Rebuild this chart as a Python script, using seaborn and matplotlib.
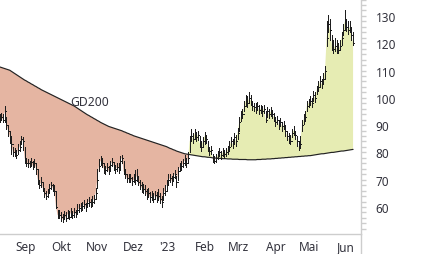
import matplotlib
matplotlib.use("Agg")
import numpy as np
import pandas as pd
import seaborn as sns
import matplotlib.pyplot as plt
from matplotlib.ticker import MultipleLocator, FixedLocator
from matplotlib.lines import Line2D

# ---------------- data ----------------
close = [
    92, 93, 92, 95, 90, 88, 86, 83, 80, 80,
    79, 81, 82, 85, 84, 78, 76, 76, 75.5, 76.5,
    75, 76, 74, 70, 68, 69, 67, 65, 64, 65,
    67, 68, 67, 66, 60, 57, 57, 56.5, 55.5, 57,
    56, 57.5, 56.5, 58, 57, 58, 57.5, 59, 59.5, 60,
    60.5, 61, 60, 61.5, 62, 61.5, 62, 63, 65, 70,
    75, 77, 76, 74, 73.5, 74.5, 73, 75.5, 76.5, 75,
    74, 74.5, 74, 77, 78, 73, 72, 70.5, 70, 70.5,
    69.5, 70, 70, 71.5, 69, 68, 67, 66.5, 66, 64.5,
    65, 63.5, 64, 63, 64.5, 63.5, 64, 63, 62, 65,
    66, 68, 70, 70.5, 69.5, 71, 72, 69, 73, 74.5,
    75, 76, 77, 76, 78, 84, 86, 85, 87, 85.5,
    86.5, 83.5, 82, 84, 86, 85, 82, 80.5, 81, 77.5,
    77, 78, 79, 80, 79, 80, 79.5, 80, 81, 82,
    84, 83, 85.5, 84, 87, 91, 93, 94, 97, 99,
    98, 100, 99, 97, 96.5, 96, 97, 95.5, 96, 95,
    96, 92, 95, 94, 95, 94, 93, 91, 92, 90,
    91, 89.5, 90, 88, 86, 85, 84, 87, 88, 86.5,
    84, 82, 83, 90, 92, 93, 97, 98, 99, 98,
    101, 100, 103, 104, 106, 105, 107, 110, 122, 127,
    125, 120, 118, 119, 118, 117.5, 119, 122, 125, 128,
    126, 125, 126, 123, 120,
]
high = [
    94, 94.5, 94, 97, 93, 90, 88, 86, 82, 81.5,
    81, 83, 84, 86, 85.5, 82, 78, 77.5, 77, 78,
    77, 77.5, 76, 74, 70, 71, 69, 67, 66, 66.5,
    68.5, 69, 68.5, 68, 66, 59, 59, 58, 57.5, 58.5,
    58, 59, 58.5, 59.5, 58.5, 59.5, 59, 61, 61, 61.5,
    62, 62.5, 61.5, 63, 63.5, 63, 64, 64.5, 67, 74,
    77.5, 78.5, 78, 76, 75, 76, 75, 77, 78, 76.5,
    75.5, 76, 76, 78.5, 79, 77, 74, 72, 72, 72,
    71, 72, 73.5, 74, 71, 70, 69, 68.5, 68, 66.5,
    67, 65.5, 66, 65, 66, 65.5, 66.5, 65, 64, 67,
    68, 70, 72, 72, 71.5, 72.5, 73.5, 71.5, 74.5, 76,
    77, 77.5, 79, 78, 80, 86, 88.6, 87, 88.5, 87.5,
    88, 86, 84, 85.5, 87.5, 86.5, 84, 82, 82.5, 79.5,
    78.5, 79.5, 80.5, 81.5, 80.5, 81.5, 81, 81.5, 82.5, 84,
    85.5, 85, 87, 86.5, 89, 93, 95, 96, 99, 101,
    100.5, 102, 101, 99, 98, 98, 98.5, 97.5, 97.5, 97,
    97.5, 95, 96.5, 96, 96.5, 95.5, 94.5, 93, 93.5, 92,
    92.5, 91, 91.5, 90, 88, 87, 86.5, 88.6, 89.5, 88,
    86, 84, 86, 92, 94, 95, 99, 99.6, 100.5, 100,
    102.5, 102, 104.5, 106, 108, 107, 109, 111.7, 128, 130.4,
    129, 123, 121, 122, 121, 120, 121, 124, 127, 132.2,
    129, 128, 128, 126, 124,
]
low = [
    91, 92, 91, 91, 88.5, 86, 83.5, 79.5, 78.5, 78.5,
    78, 79.5, 80.5, 83, 81, 76, 75, 74.5, 74.5, 75,
    74, 74.5, 72, 68.5, 67, 67.5, 66, 63.5, 63, 63.5,
    65.5, 66.5, 66, 64.5, 59.5, 56, 56, 55, 54.5, 55.5,
    55, 56, 55.5, 56.5, 56, 56.5, 56.5, 57.5, 58, 58.5,
    59, 59.5, 58.5, 60, 60.5, 60, 60.5, 61.5, 63, 67,
    73, 75.5, 74.5, 72.5, 72, 73, 72, 73, 75, 73.5,
    72.5, 73, 72.5, 73.5, 76, 72, 70.5, 69, 69, 69,
    68, 69, 68.5, 69.5, 68, 66.5, 65.5, 65, 64.5, 63,
    63.5, 62, 62.5, 62, 63, 62, 62.5, 61.5, 60, 62.5,
    64.5, 66, 68.5, 69, 68, 69.5, 70.5, 67.5, 70, 73,
    73.5, 74.5, 75.5, 74.5, 76, 80, 84, 83.5, 85, 84,
    84.5, 82, 80.5, 82, 83, 83.5, 80.5, 79, 79.5, 76.5,
    76, 76.5, 77.5, 78.5, 77.5, 78.5, 78, 78.5, 79.5, 80.5,
    82.5, 81.5, 83.5, 82.5, 85, 88, 91.5, 92.5, 95, 97,
    96.5, 98.5, 97.5, 95.5, 95, 94.5, 95.5, 94, 94.5, 93.5,
    94.5, 91, 93, 92.5, 93.5, 92.5, 91.5, 89.5, 90.5, 88.5,
    89.5, 88, 88.5, 86, 84.5, 83.5, 83, 85.5, 86.5, 85,
    82.5, 81, 81.5, 88, 90.5, 91.5, 95, 96.5, 97.5, 96.5,
    99, 98.5, 101.5, 102.5, 104, 103.5, 105.5, 107, 119, 124,
    121, 117.5, 116.5, 117, 116.5, 116.5, 117.5, 119.5, 123, 125,
    124.5, 123.5, 124, 121, 119.5,
]
gd200 = [
    111.3, 111.1, 110.9, 110.7, 110.5, 110.3, 110.1, 109.7, 109.3, 108.9, 108.5,
    108.1, 107.7, 107.3, 106.9, 106.5, 106.2, 105.8, 105.5, 105.1, 104.8,
    104.4, 104.1, 103.7, 103.4, 103.0, 102.7, 102.4, 102.1, 101.8, 101.5,
    101.2, 100.9, 100.6, 100.3, 100.0, 99.7, 99.4, 99.1, 98.8, 98.5, 98.2, 97.9, 97.6, 97.3,
    97.0, 96.6, 96.2, 95.8, 95.4, 95.0, 94.6, 94.2, 93.8,
    93.5, 93.1, 92.8, 92.4, 92.1, 91.7, 91.4, 91.0, 90.7, 90.4, 90.1, 89.8,
    89.5, 89.3, 89.1, 88.9, 88.7, 88.5, 88.3, 88.1, 87.9, 87.6, 87.4, 87.1, 86.9, 86.6, 86.4, 86.1, 85.9,
    85.7, 85.5, 85.3, 85.1, 84.9, 84.7, 84.5, 84.3, 84.1, 83.9, 83.7, 83.5, 83.3, 83.1, 82.9, 82.7, 82.5, 82.3, 82.1,
    81.8, 81.5, 81.3, 81.0, 80.8, 80.5, 80.3, 80.1, 79.9, 79.7, 79.5, 79.4, 79.3, 79.2,
    79.1, 79.0, 78.9, 78.8, 78.7, 78.6, 78.5, 78.4, 78.4, 78.3, 78.2, 78.2, 78.1, 78.0,
    78.0, 77.9, 77.9, 77.8, 77.8, 77.7, 77.7, 77.7, 77.6, 77.6, 77.6, 77.5, 77.5, 77.5, 77.5,
    77.4, 77.4, 77.4, 77.4, 77.4, 77.3, 77.3, 77.3, 77.3, 77.3, 77.3,
    77.4, 77.4, 77.4, 77.5, 77.5, 77.5, 77.6, 77.6, 77.6, 77.7, 77.7, 77.8, 77.8, 77.9, 77.9,
    78.0, 78.0, 78.1, 78.1, 78.2, 78.2, 78.3, 78.3, 78.4, 78.4, 78.5, 78.5, 78.6, 78.6, 78.7,
    78.7, 78.8, 78.8, 78.9, 79.0,
    79.1, 79.2, 79.3, 79.4, 79.5, 79.5, 79.6, 79.7, 79.8, 79.9, 80.0, 80.0,
    80.1, 80.2, 80.3, 80.4, 80.5, 80.5, 80.6, 80.7, 80.8, 80.9, 81.0, 81.1,
]
start_date = "2022-08-22"
month_labels = ["Sep", "Okt", "Nov", "Dez", "'23", "Feb", "Mrz", "Apr", "Mai", "Jun"]
y_ticks = [60, 70, 80, 90, 100, 110, 120, 130]
ma_label = "GD200"

# ---------------- build frame ----------------
n = min(len(close), len(high), len(low), len(gd200))
dates = pd.bdate_range(start_date, periods=n)
df = pd.DataFrame({
    "i": np.arange(n),
    "close": np.array(close[:n], float),
    "high": np.array(high[:n], float),
    "low": np.array(low[:n], float),
    "ma": np.array(gd200[:n], float),
})
month_starts = [k for k in range(1, n) if dates[k].month != dates[k - 1].month]

# ---------------- style ----------------
sns.set_style("white")
plt.rcParams["font.family"] = ["Noto Sans", "DejaVu Sans"]
text_col = "#33333d"
grid_col = "#cdcdcd"
salmon = "#e5b5a2"
yellow = "#e6ecb3"

fig = plt.figure(figsize=(4.26, 2.55), dpi=100)
ax = fig.add_axes([0, 20 / 255, 361 / 426, 235 / 255])

x = df["i"].to_numpy()
c = df["close"].to_numpy()
m = df["ma"].to_numpy()
ax.fill_between(x, c, m, where=c < m, interpolate=True, color=salmon, lw=0, zorder=1)
ax.fill_between(x, c, m, where=c >= m, interpolate=True, color=yellow, lw=0, zorder=1)

sns.lineplot(data=df, x="i", y="ma", ax=ax, color="#222222", lw=0.85, zorder=3)

ax.vlines(x, df["low"], df["high"], color="#1e1e1e", lw=0.72, zorder=4, antialiased=False)
ax.hlines(c, x, x + 0.7, color="#1e1e1e", lw=0.72, zorder=4, antialiased=False)

ax.text(54.5, 98.5, ma_label, fontsize=8.8, color=text_col, ha="center", va="center", zorder=5)

# ---------------- axes ----------------
ax.set_xlim(0.1, 218.8)
ax.set_ylim(50.1, 136.2)
ax.set_xlabel("")
ax.set_ylabel("")

ax.xaxis.set_major_locator(FixedLocator(month_starts))
ax.set_xticklabels([])
ax.tick_params(axis="x", which="major", length=14.6, width=1, color=grid_col, direction="out")
for pos, lab in zip(month_starts, month_labels):
    ax.text(pos + 1.3, -0.052, lab, transform=ax.get_xaxis_transform(),
            ha="left", va="center", fontsize=8.5, color=text_col)

ax.yaxis.tick_right()
ax.set_yticks(y_ticks)
ax.yaxis.set_minor_locator(MultipleLocator(2))
ax.tick_params(axis="y", which="both", length=3.4, width=1, color=grid_col,
               direction="out", pad=7, labelsize=8.5, labelcolor=text_col)

for s in ["left", "top"]:
    ax.spines[s].set_visible(False)
for s in ["right", "bottom"]:
    ax.spines[s].set_color(grid_col)
    ax.spines[s].set_linewidth(1)

fig.add_artist(Line2D([361 / 426, 361 / 426], [0, 20 / 255], transform=fig.transFigure,
                      color=grid_col, lw=1))

fig.savefig("out.png", dpi=100)
